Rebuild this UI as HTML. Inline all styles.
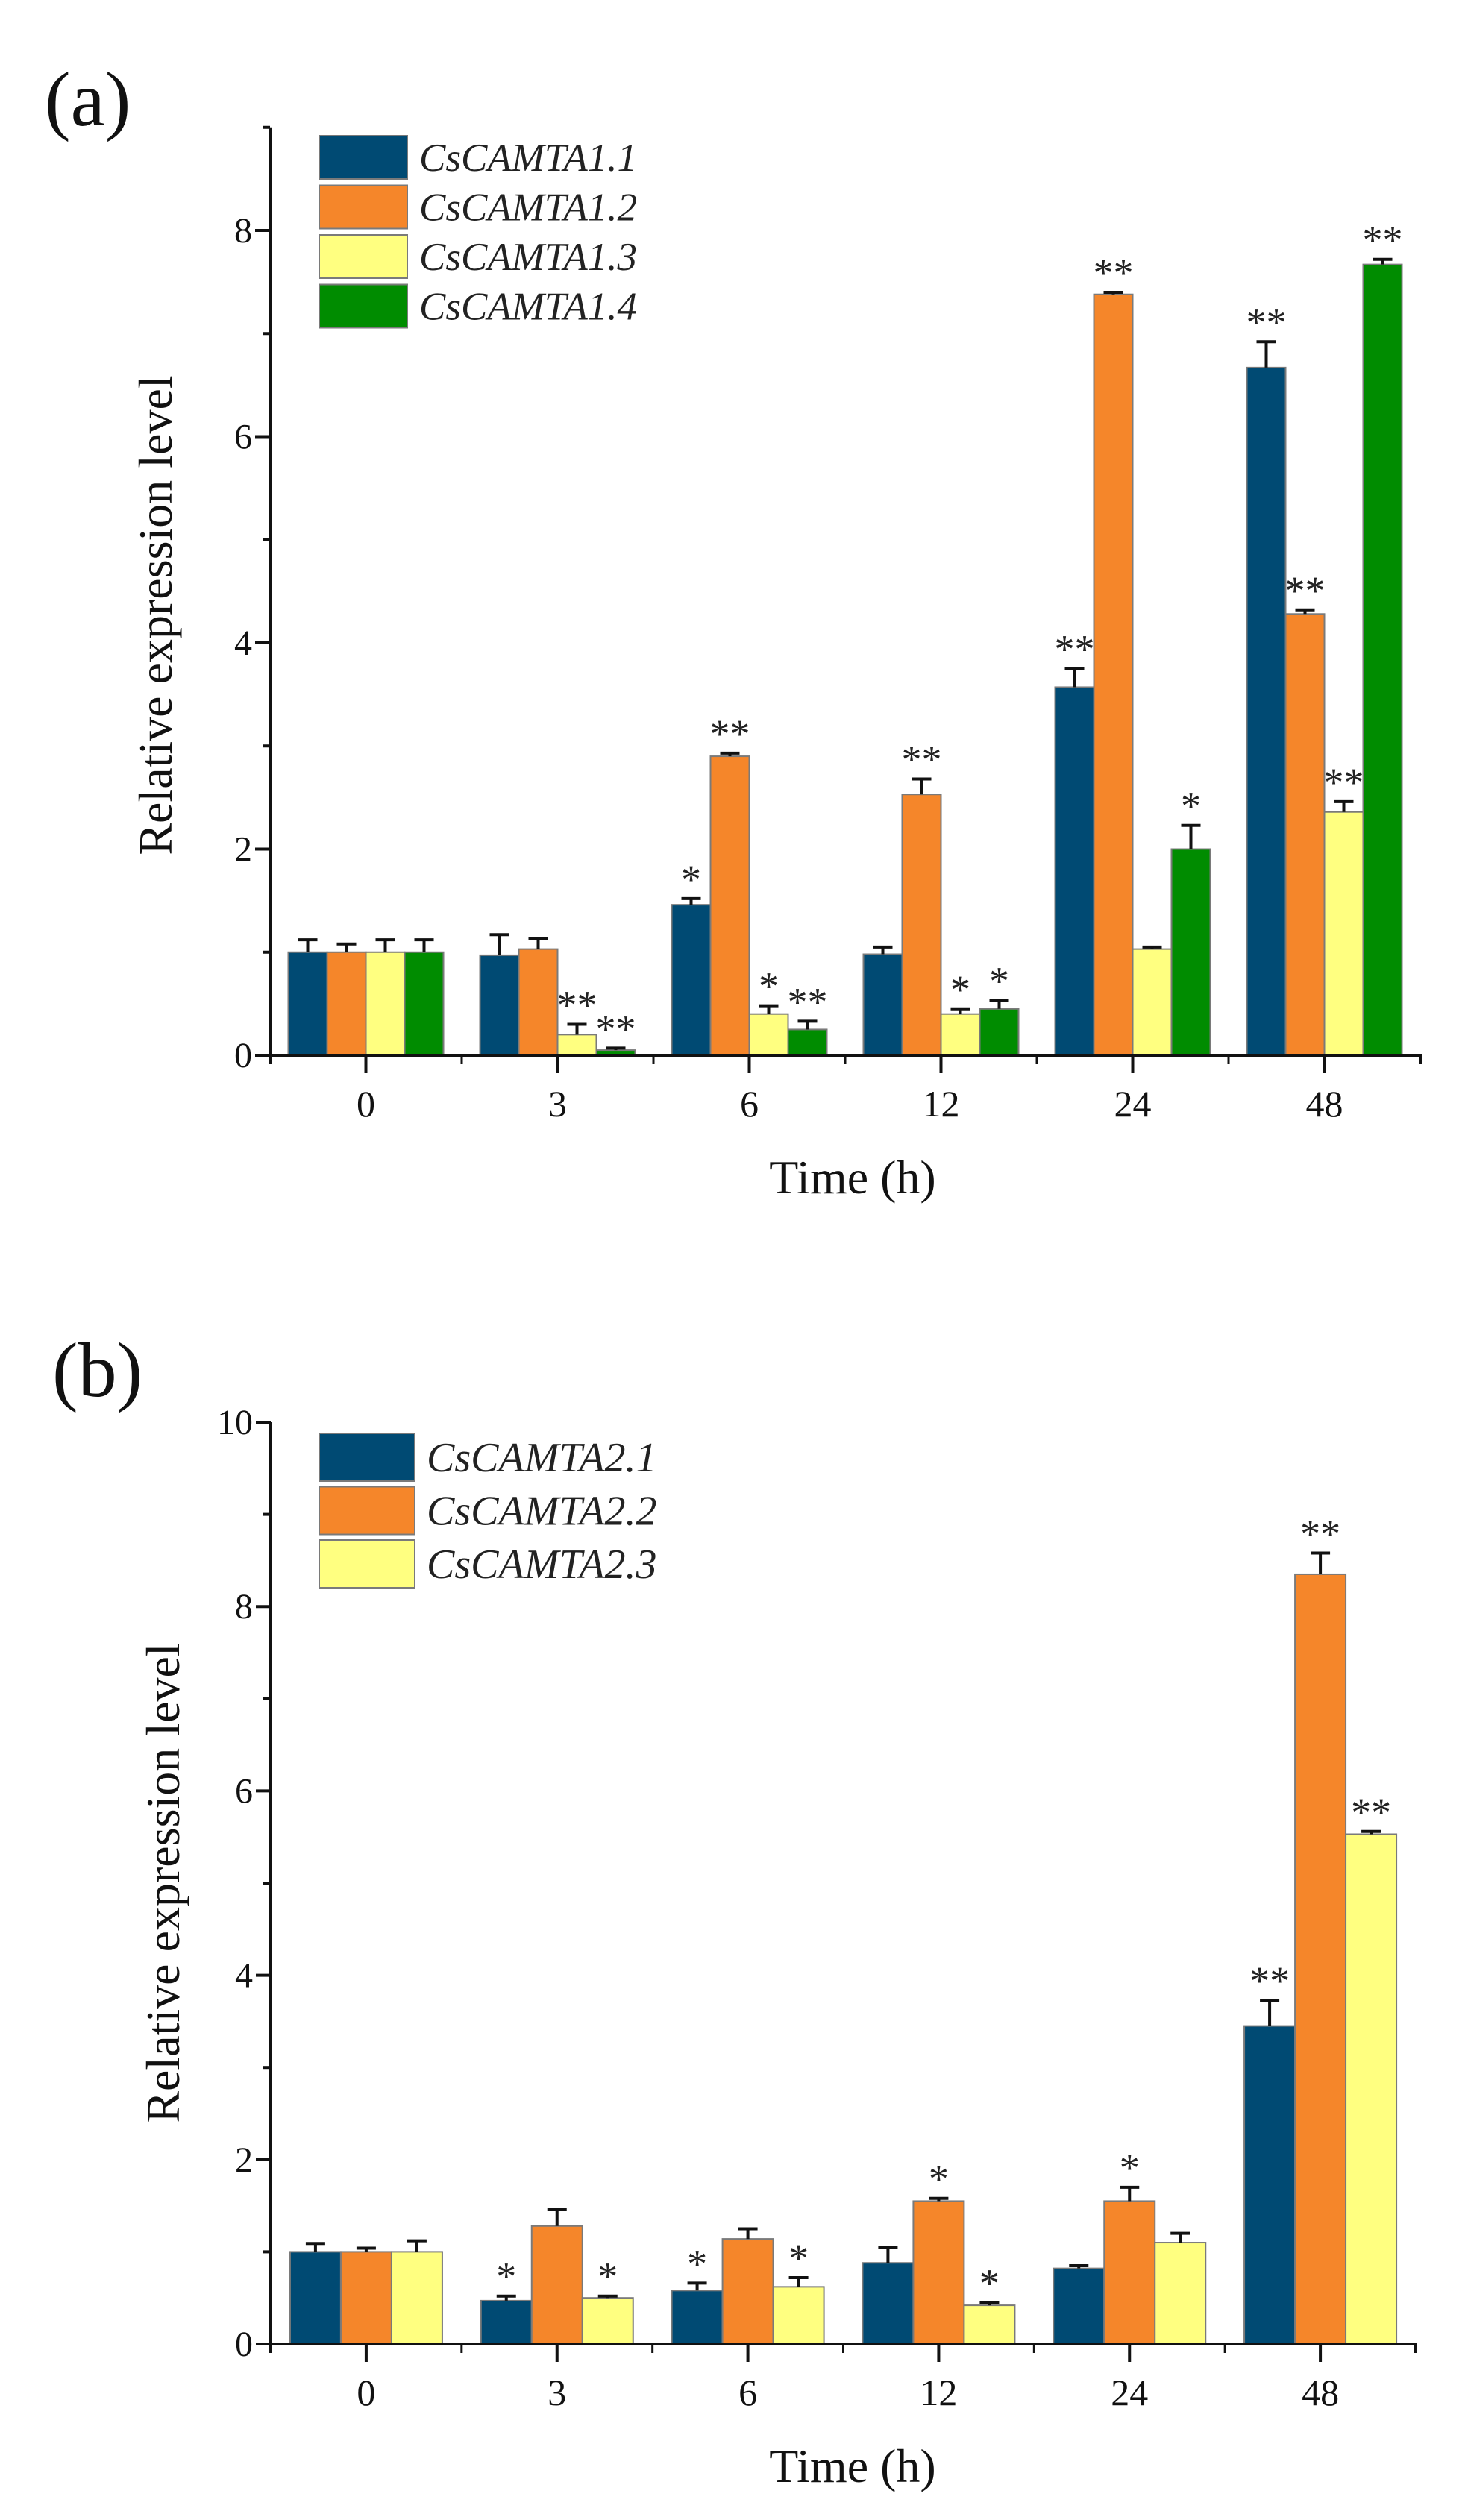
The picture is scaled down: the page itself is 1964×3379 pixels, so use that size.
<!DOCTYPE html>
<html><head><meta charset="utf-8"><style>
html,body{margin:0;padding:0;background:#fff}
svg{display:block;font-family:"Liberation Serif","Times New Roman",serif}
</style></head><body>
<svg id="fig" width="1964" height="3379" viewBox="0 0 1964 3379" xmlns="http://www.w3.org/2000/svg">
<rect x="0" y="0" width="1964" height="3379" fill="#fff"/>
<g id="chartA"></g>
<g id="chartB"></g>
</svg>
<script>
const categories = ["0","3","6","12","24","48"];
// Chart (a)
const seriesA = ["CsCAMTA1.1","CsCAMTA1.2","CsCAMTA1.3","CsCAMTA1.4"];
const a11 = [1.0,0.97,1.46,0.98,3.57,6.67];
const a12 = [1.0,1.03,2.9,2.53,7.38,4.28];
const a13 = [1.0,0.2,0.4,0.4,1.03,2.36];
const a14 = [1.0,0.05,0.25,0.45,2.0,7.67];
const a11e = [0.12,0.2,0.06,0.07,0.18,0.25];
const a12e = [0.08,0.1,0.03,0.15,0.02,0.04];
const a13e = [0.12,0.1,0.08,0.05,0.02,0.1];
const a14e = [0.12,0.02,0.08,0.08,0.23,0.05];
const a11s = ["","","*","","**","**"];
const a12s = ["","","**","**","**","**"];
const a13s = ["","**","*","*","","**"];
const a14s = ["","**","**","*","*","**"];
const ticksA = [0,2,4,6,8];
// Chart (b)
const seriesB = ["CsCAMTA2.1","CsCAMTA2.2","CsCAMTA2.3"];
const b21 = [1.0,0.47,0.58,0.88,0.82,3.45];
const b22 = [1.0,1.28,1.14,1.55,1.55,8.35];
const b23 = [1.0,0.5,0.62,0.42,1.1,5.53];
const b21e = [0.09,0.05,0.08,0.17,0.03,0.28];
const b22e = [0.04,0.18,0.11,0.03,0.15,0.23];
const b23e = [0.12,0.02,0.1,0.03,0.1,0.03];
const b21s = ["","*","*","","","**"];
const b22s = ["","","","*","*","**"];
const b23s = ["","*","*","*","","**"];
const ticksB = [0,2,4,6,8,10];

const colors = ["#004A73","#F5862A","#FFFF80","#008C00"];
const NS = "http://www.w3.org/2000/svg";
function mk(parent, tag, attrs, text){
  const e = document.createElementNS(NS, tag);
  for (const k in attrs) e.setAttribute(k, attrs[k]);
  if (text !== undefined) e.textContent = text;
  parent.appendChild(e);
  return e;
}

function drawChart(g, cfg){
  const {x0,x1,y0,unit,ymax,vals,errs,stars,names,ticks,legendX,legendY,legendH,legendPitch,legendW,legendFont,label,labelX,labelY,ytitleX,ytitleY,barW} = cfg;
  const yS = v => y0 - v*unit;
  const step = (x1-x0)/categories.length;
  const xC = i => x0 + step*(i+0.5);
  const n = vals.length;
  for (let s=0;s<n;s++){
    for (let i=0;i<categories.length;i++){
      const v = vals[s][i];
      const bx = xC(i) - n*barW/2 + s*barW;
      const r = mk(g,'rect',{x:bx,y:yS(v),width:barW,height:y0-yS(v),fill:colors[s],stroke:'#7a7a7a','stroke-width':2});
      
      
      const cx = bx + barW/2, et = yS(v+errs[s][i]);
      const eb = mk(g,'path',{d:`M${cx} ${yS(v)} V${et} M${cx-13} ${et} H${cx+13}`,stroke:'#111','stroke-width':4,fill:'none'});
      
      
      if (stars[s][i]){
        const t = mk(g,'text',{x:cx,y:et-8,'text-anchor':'middle','font-size':54,fill:'#222'},stars[s][i]);
        
        
      }
    }
  }
  const ax = mk(g,'path',{d:`M${x0} ${yS(ymax)} V${y0+12} M${x0-10} ${y0} H${x1} V${y0+12}`,stroke:'#111','stroke-width':4,fill:'none'});
  
  
  for (let v=0; v<=ymax; v++){
    const major = ticks.includes(v);
    mk(g,'line',{x1:x0,x2:x0-(major?20:10),y1:yS(v),y2:yS(v),stroke:'#111','stroke-width':4});
  }
  ticks.forEach(v=>{
    const t = mk(g,'text',{x:x0-24,y:yS(v)+16,'text-anchor':'end','font-size':48,fill:'#111'},String(v));
    
    
  });
  for (let i=0;i<=categories.length;i++){
    mk(g,'line',{x1:x0+step*i,x2:x0+step*i,y1:y0,y2:y0+12,stroke:'#111','stroke-width':3});
  }
  categories.forEach((c,i)=>{
    mk(g,'line',{x1:xC(i),x2:xC(i),y1:y0,y2:y0+24,stroke:'#111','stroke-width':4});
    const t = mk(g,'text',{x:xC(i),y:y0+82,'text-anchor':'middle','font-size':50,fill:'#111'},c);
    
    
  });
  const xt = mk(g,'text',{x:1143,y:y0+185,'text-anchor':'middle','font-size':64,fill:'#111'},'Time (h)');
  
  
  const yt = mk(g,'text',{x:0,y:0,'text-anchor':'middle','font-size':64,fill:'#111',transform:`translate(${ytitleX},${ytitleY}) rotate(-90)`},'Relative expression level');
  
  
  const pl = mk(g,'text',{x:labelX,y:labelY,'font-size':104,fill:'#111'},label);
  
  
  names.forEach((nm,s)=>{
    const ly = legendY + s*legendPitch;
    const lr = mk(g,'rect',{x:legendX,y:ly,width:legendW,height:legendH,fill:colors[s],stroke:'#7a7a7a','stroke-width':2});
    
    
    const lt = mk(g,'text',{x:legendX+legendW+16,y:ly+legendH/2+legendFont*0.34,'font-size':legendFont,'font-style':'italic',fill:'#222'},nm);
    
    
  });
}

drawChart(document.getElementById('chartA'),{
  x0:362,x1:1904,y0:1415,unit:138.25,ymax:9,barW:52,
  vals:[a11,a12,a13,a14],errs:[a11e,a12e,a13e,a14e],stars:[a11s,a12s,a13s,a14s],
  names:seriesA,ticks:ticksA,
  legendX:428,legendY:182,legendH:58,legendPitch:66.5,legendW:118,legendFont:53,
  label:'(a)',labelX:60,labelY:168,ytitleX:230,ytitleY:825
});
drawChart(document.getElementById('chartB'),{
  x0:363,x1:1898,y0:3143,unit:123.6,ymax:10,barW:68,
  vals:[b21,b22,b23],errs:[b21e,b22e,b23e],stars:[b21s,b22s,b23s],
  names:seriesB,ticks:ticksB,
  legendX:428,legendY:1922,legendH:64,legendPitch:71.5,legendW:128,legendFont:56,
  label:'(b)',labelX:70,labelY:1872,ytitleX:240,ytitleY:2525
});
</script>
</body></html>
